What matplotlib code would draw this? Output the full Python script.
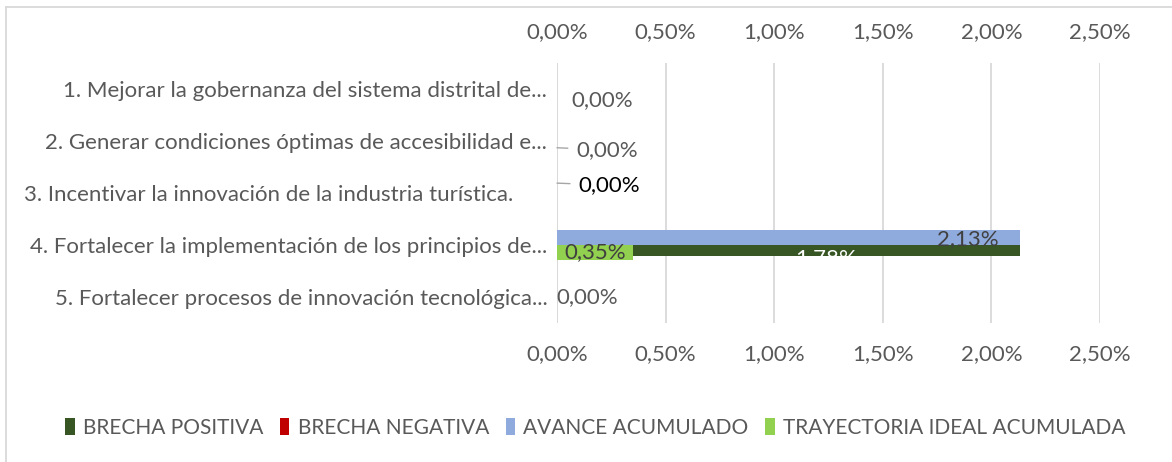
import numpy as np
import matplotlib.pyplot as plt
from matplotlib.ticker import FuncFormatter
from matplotlib.lines import Line2D

plt.rcParams['font.family'] = ['Lato', 'DejaVu Sans']

# Data (values in %)
categorias = ['1. Mejorar la gobernanza del sistema distrital de...',
              '2. Generar condiciones óptimas de accesibilidad e...',
              '3. Incentivar la innovación de la industria turística.      ',
              '4. Fortalecer la implementación de los principios de...',
              '5. Fortalecer procesos de innovación tecnológica...']
trayectoria = [0.0, 0.0, 0.0, 0.35, 0.0]
brecha_pos = [0.0, 0.0, 0.0, 1.78, 0.0]
brecha_neg = [0.0, 0.0, 0.0, 0.0, 0.0]
avance = [0.0, 0.0, 0.0, 2.13, 0.0]

c_pos = '#375623'
c_neg = '#C00000'
c_av = '#8FAADC'
c_tray = '#92D050'
txt = '#595959'
fs = 16

def fmt_pct(v):
    return '{:.2f}%'.format(v).replace('.', ',')

fig = plt.figure(figsize=(11.72, 4.62), dpi=100)
ax = fig.add_axes([557/1172, 1-323/462, (1100-557)/1172, (323-63)/462])

y = np.arange(len(categorias))
# avance acumulado (upper half of each category)
b_av = ax.barh(y - 0.145, avance, height=0.29, color=c_av, label='AVANCE ACUMULADO')
# stacked: trayectoria + brecha positiva + brecha negativa (lower half)
b_tr = ax.barh(y + 0.145, trayectoria, height=0.29, color=c_tray, label='TRAYECTORIA IDEAL ACUMULADA')
b_bp = ax.barh(y + 0.005, brecha_pos, height=0.2, left=trayectoria, color=c_pos,
               align='edge', label='BRECHA POSITIVA')
left2 = np.array(trayectoria) + np.array(brecha_pos)
b_bn = ax.barh(y + 0.005, brecha_neg, height=0.2, left=left2, color=c_neg,
               align='edge', label='BRECHA NEGATIVA')

ax.set_xlim(0, 2.5)
ax.set_ylim(len(categorias) - 0.5, -0.5)
ax.set_xticks(np.arange(0, 2.51, 0.5))
ax.xaxis.set_major_formatter(FuncFormatter(lambda v, p: fmt_pct(v)))
ax.set_yticks(y)
ax.set_yticklabels(categorias)
ax.tick_params(axis='x', length=0, pad=15, labelsize=fs, colors=txt,
               labeltop=True, labelbottom=True)
ax.tick_params(axis='y', length=0, pad=7, labelsize=fs, colors=txt)
ax.grid(axis='x', color='#D9D9D9', linewidth=1.3)
ax.set_axisbelow(True)
for s in ax.spines.values():
    s.set_visible(False)
ax.axvline(0, color='#D9D9D9', linewidth=1.3, zorder=0)

# data labels for category 4
ax.text(1.89, 3 - 0.12, fmt_pct(avance[3]), ha='center', va='center', fontsize=fs, color='#404040')
ax.text(trayectoria[3] / 2, 3 + 0.13, fmt_pct(trayectoria[3]), ha='center', va='center',
        fontsize=fs, color='#404040')
ax.text(trayectoria[3] + brecha_pos[3] / 2, 3 + 0.25, fmt_pct(brecha_pos[3]), ha='center',
        va='center', fontsize=fs, color='white')

# zero labels
ax.text(0.207, 0 + 0.21, fmt_pct(avance[0]), ha='center', va='center', fontsize=fs, color=txt)
ax.annotate(fmt_pct(avance[1]), xy=(0, 1 + 0.13), xytext=(0.23, 1 + 0.17),
            ha='center', va='center', fontsize=fs, color=txt,
            arrowprops=dict(arrowstyle='-', color='#A6A6A6', lw=1,
                            shrinkA=4, shrinkB=0))
ax.annotate(fmt_pct(avance[2]), xy=(0, 2 - 0.19), xytext=(0.24, 2 - 0.15),
            ha='center', va='center', fontsize=fs, color='black',
            arrowprops=dict(arrowstyle='-', color='#A6A6A6', lw=1,
                            shrinkA=4, shrinkB=0))
ax.text(0.138, 4, fmt_pct(avance[4]), ha='center', va='center', fontsize=fs, color=txt)

# legend
handles = [b_bp, b_bn, b_av, b_tr]
fig.legend(handles, [h.get_label() for h in handles], loc='center', ncol=4,
           bbox_to_anchor=(0.508, 1 - 428/462), frameon=False, fontsize=15,
           handlelength=0.45, handleheight=0.9, handletextpad=0.4,
           columnspacing=0.8, labelcolor=txt)

# chart border (top & left visible)
fig.add_artist(Line2D([6/1172, 6/1172], [0, 1 - 7/462], transform=fig.transFigure,
                      color='#D9D9D9', lw=1.3))
fig.add_artist(Line2D([6/1172, 1], [1 - 7/462, 1 - 7/462], transform=fig.transFigure,
                      color='#D9D9D9', lw=1.3))

fig.savefig('out.png', dpi=100)
